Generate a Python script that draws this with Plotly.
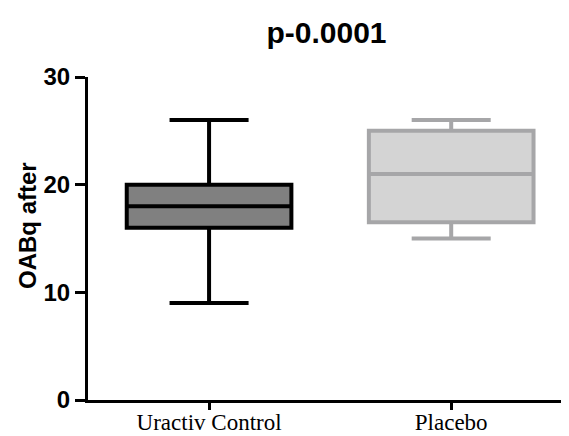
import plotly.graph_objects as go

categories = ["Uractiv Control", "Placebo"]
lower = [9, 15]
q1 = [16, 16.5]
median = [18, 21]
q3 = [20, 25]
upper = [26, 26]
fills = ["#808080", "#d4d4d4"]
lines = ["#000000", "#a6a6a8"]
y_title = "OABq after"

fig = go.Figure()
for i, c in enumerate(categories):
    fig.add_trace(go.Box(
        x=[i], q1=[q1[i]], median=[median[i]], q3=[q3[i]],
        lowerfence=[lower[i]], upperfence=[upper[i]],
        fillcolor=fills[i], line=dict(color=lines[i], width=4),
        width=0.68, whiskerwidth=0.48, boxpoints=False, showlegend=False,
        hoverinfo="skip",
    ))

# page body has an 8px default margin; figure sized to fit the window
W, H = 561, 428
L, R, T, B = 80, 4, 69, 36
PW, PH = W - L - R, H - T - B
fig.update_layout(
    width=W, height=H,
    margin=dict(l=L, r=R, t=T, b=B, autoexpand=False),
    plot_bgcolor="white", paper_bgcolor="white",
    title=dict(text="p-0.0001", x=0.5, xref="paper", xanchor="center",
               y=1 - 24 / H, yanchor="middle", automargin=False,
               font=dict(family="Liberation Sans", size=30, color="black", weight="bold")),
    xaxis=dict(range=[-0.5, 1.47], tickmode="array", tickvals=[0, 1], ticktext=categories,
               showline=True, linecolor="black", linewidth=3, ticks="outside", ticklen=7,
               tickwidth=3, tickcolor="black", showgrid=False, zeroline=False,
               automargin=False, ticklabelstandoff=-8,
               tickfont=dict(family="Liberation Serif", size=23, color="black")),
    yaxis=dict(range=[0, 30], tickvals=[0, 10, 20, 30], showline=True, linecolor="black",
               linewidth=3, ticks="outside", ticklen=10, tickwidth=3, tickcolor="black",
               showgrid=False, zeroline=False, automargin=False,
               tickfont=dict(family="Liberation Sans", size=24, color="black", weight="bold")),
    annotations=[dict(text=y_title, textangle=-90, showarrow=False,
                      xref="paper", yref="paper",
                      x=(19 - L) / PW, y=(T + PH - 217) / PH,
                      xanchor="center", yanchor="middle",
                      font=dict(family="Liberation Sans", size=24, color="black", weight="bold"))],
)

fig.write_html("out.html")
